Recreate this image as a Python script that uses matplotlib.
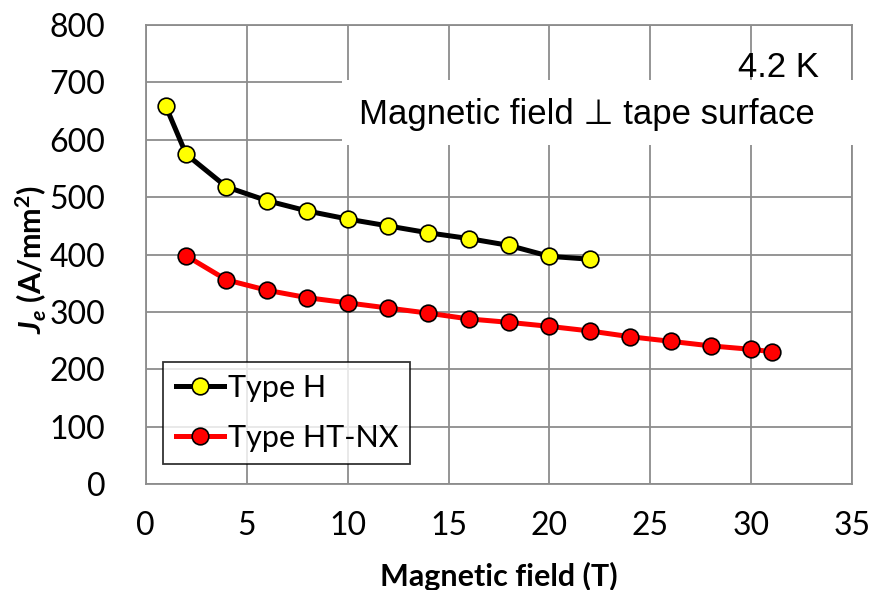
import matplotlib.pyplot as plt
from matplotlib.patches import Rectangle

# Je vs field at 4.2 K, field perpendicular to tape surface
field_h = [1, 2, 4, 6, 8, 10, 12, 14, 16, 18, 20, 22]
je_h = [658, 575, 518, 494, 476, 462, 450, 438, 428, 416, 397, 392]

field_htnx = [2, 4, 6, 8, 10, 12, 14, 16, 18, 20, 22, 24, 26, 28, 30, 31]
je_htnx = [398, 356, 338, 325, 316, 307, 298, 288, 282, 275, 267, 257, 249, 241, 235, 231]

x_ticks = [0, 5, 10, 15, 20, 25, 30, 35]
y_ticks = [0, 100, 200, 300, 400, 500, 600, 700, 800]

plt.rcParams['font.family'] = ['Lato', 'DejaVu Sans']
plt.rcParams['mathtext.fontset'] = 'custom'
plt.rcParams['mathtext.it'] = 'Lato:italic:bold'
plt.rcParams['mathtext.rm'] = 'Lato:bold'

fig = plt.figure(figsize=(8.72, 5.90), dpi=100)
ax = fig.add_axes([0.1671, 0.1792, 0.8103, 0.7785])

ax.plot(field_h, je_h, color='black', lw=3.6, marker='o', ms=12,
        mfc='#ffff00', mec='black', mew=1.2, label='Type H', zorder=4)
ax.plot(field_htnx, je_htnx, color='#ff0000', lw=3.6, marker='o', ms=12,
        mfc='#ff0000', mec='black', mew=1.2, label='Type HT-NX', zorder=4)

ax.set_xlim(0, 35)
ax.set_ylim(0, 800)
ax.set_xticks(x_ticks)
ax.set_yticks(y_ticks)
ax.tick_params(length=0, labelsize=23)
ax.tick_params(axis='x', pad=19)
ax.tick_params(axis='y', pad=29)
ax.set_axisbelow(True)
ax.grid(True, color='#8c8c8c', lw=1.3)
for s in ax.spines.values():
    s.set_color('#8c8c8c')
    s.set_linewidth(1.3)

ax.set_xlabel('Magnetic field (T)', fontsize=22, fontweight='bold')
ax.xaxis.set_label_coords(0.5, -0.17)
ax.set_ylabel(r'$J_e$ (A/mm$^2$)', fontsize=22, fontweight='bold')
ax.yaxis.set_label_coords(-0.137, 0.49)

# white panel behind the orientation note
ax.add_patch(Rectangle((0.278, 0.739), 0.735, 0.141, transform=ax.transAxes,
                       facecolor='white', edgecolor='none', zorder=3, clip_on=False))
ax.text(0.625, 0.806, 'Magnetic field \u22a5 tape surface', transform=ax.transAxes,
        ha='center', va='center', fontsize=25, zorder=5,
        family=['Liberation Sans', 'DejaVu Sans'])
ax.text(0.952, 0.907, '4.2 K', transform=ax.transAxes, ha='right', va='center',
        fontsize=25, zorder=5, family=['Liberation Sans', 'DejaVu Sans'])

leg = ax.legend(loc='lower left', bbox_to_anchor=(0.025, 0.044), fontsize=22,
                frameon=True, fancybox=False, borderpad=0.4, handlelength=1.6,
                handletextpad=0.1, labelspacing=0.72, borderaxespad=0)
leg.get_frame().set_edgecolor('black')
leg.get_frame().set_linewidth(1.3)
leg.set_zorder(6)

fig.savefig('out.png', dpi=100)
